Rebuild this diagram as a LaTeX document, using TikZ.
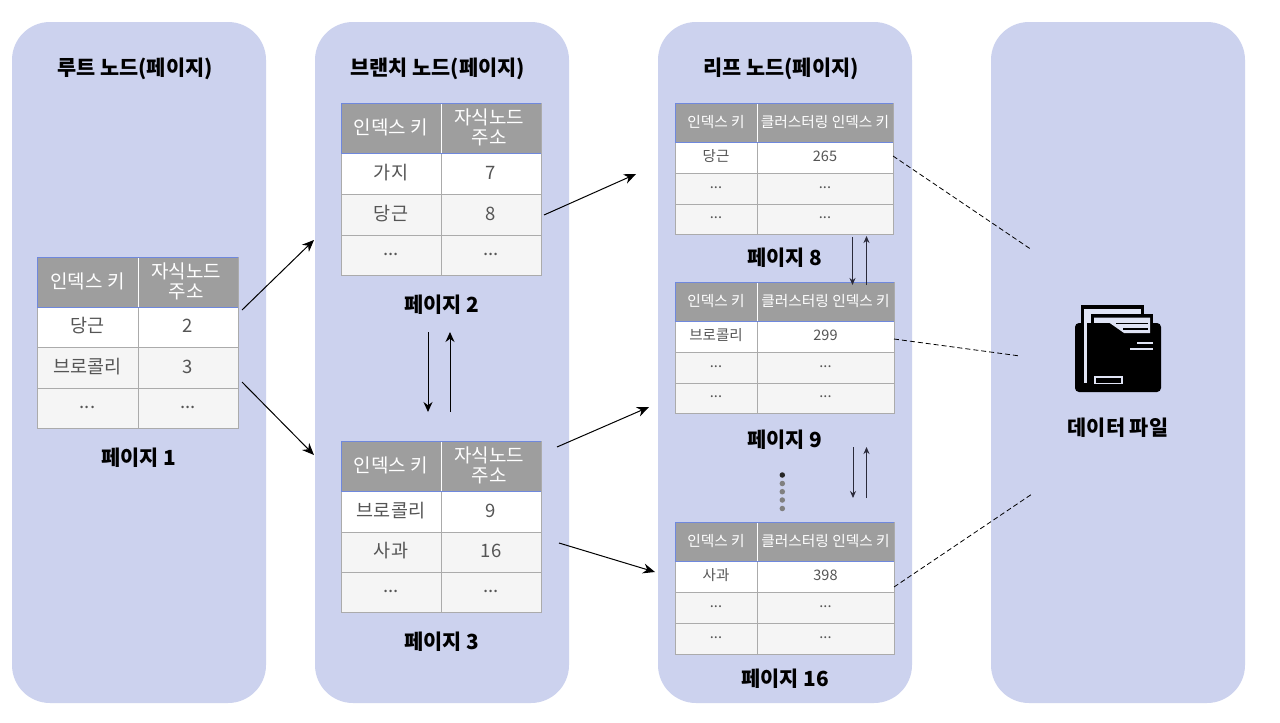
\documentclass[tikz,border=0pt]{standalone}
\usepackage{fontspec}
\setmainfont{Noto Sans CJK KR}
\usetikzlibrary{arrows.meta}
\definecolor{panelc}{HTML}{CCD2EE}
\definecolor{headc}{HTML}{9E9E9E}
\definecolor{rowc}{HTML}{F5F5F5}
\definecolor{gridc}{HTML}{ABABAB}
\definecolor{bluec}{HTML}{6F88DD}
\definecolor{textc}{HTML}{555555}
\definecolor{arrowc}{HTML}{2A2A3A}
\tikzset{
  x=1pt,y=-1pt,
  panel/.style={fill=panelc,rounded corners=38pt,draw=none},
  ptitle/.style={font=\fontsize{20.8}{24}\selectfont\bfseries,text=black,inner sep=0pt},
  flow/.style={-{Stealth[length=12pt,width=10pt]},line width=1pt,black},
  link/.style={-{Stealth[length=7pt,width=6pt]},line width=.9pt,arrowc},
  datalink/.style={dashed,dash pattern=on 5pt off 3pt,line width=.8pt,black},
  dotc/.style={circle,inner sep=0pt,minimum size=5.5pt,fill=#1},
}
\colorlet{lightc}{panelc!60!white}
\def\cx{0pt}
% cell: name, x1,y1,x2,y2, fill, text colour, font, text
\newcommand{\tcell}[9]{%
  \node[draw=gridc,line width=.9pt,fill=#6,inner sep=0pt,outer sep=0pt,
        minimum width={(#4-#2)*1pt},minimum height={(#5-#3)*1pt},anchor=north west] (#1) at (#2,#3) {};
  \node[text=#7,inner sep=0pt,align=center,font=#8] (#1-t) at ([yshift=1pt,xshift=\cx]#1.center) {#9};}
% table: name, x0,x1,x2, y0..y4, then hdr1, hdr2, r1a, r1b, r2a, r2b, r3a, r3b
\newcommand{\ttable}[9]{%
  \def\tn{#1}\def\xa{#2}\def\xb{#3}\def\xc{#4}\def\ya{#5}\def\yb{#6}\def\yc{#7}\def\yd{#8}\def\ye{#9}\ttableb}
\newcommand{\ttableb}[8]{%
  \tcell{\tn-h1}{\xa}{\ya}{\xb}{\yb}{headc}{white}{\hfont}{#1}
  \def\cx{\hx}
  \tcell{\tn-h2}{\xb}{\ya}{\xc}{\yb}{headc}{white}{\hfont}{#2}
  \def\cx{0pt}
  \draw[white,line width=1pt] (\xb,\ya) -- (\xb,\yb);
  \draw[bluec,line width=.9pt] (\xa,\ya) -- (\xc,\ya) (\xa,\yb) -- (\xc,\yb);
  \draw[bluec,line width=.7pt] (\xa,\ya) -- (\xa,\yb);
  \tcell{\tn-a1}{\xa}{\yb}{\xb}{\yc}{white}{textc}{\bfont}{#3}
  \tcell{\tn-a2}{\xb}{\yb}{\xc}{\yc}{white}{textc}{\bfont}{#4}
  \tcell{\tn-b1}{\xa}{\yc}{\xb}{\yd}{rowc}{textc}{\bfont}{#5}
  \tcell{\tn-b2}{\xb}{\yc}{\xc}{\yd}{rowc}{textc}{\bfont}{#6}
  \tcell{\tn-c1}{\xa}{\yd}{\xb}{\ye}{rowc}{textc}{\bfont}{#7}
  \tcell{\tn-c2}{\xb}{\yd}{\xc}{\ye}{rowc}{textc}{\bfont}{#8}
  \draw[bluec,line width=.9pt] (\xa,\yb) -- (\xc,\yb);
}
\newcommand{\bigfonts}{\def\hx{-2pt}\def\hfont{\fontsize{19}{20}\selectfont}\def\bfont{\fontsize{18.5}{20}\selectfont}}
\newcommand{\smallfonts}{\def\hx{0pt}\def\hfont{\fontsize{14.7}{16}\selectfont}\def\bfont{\fontsize{14.5}{16}\selectfont}}
\begin{document}
\begin{tikzpicture}
\useasboundingbox (0,0) rectangle (1280,723);
\fill[white] (0,0) rectangle (1280,723);
\path[panel] (12,22) rectangle (266,703);
\path[panel] (315,22) rectangle (569,703);
\path[panel] (658,22) rectangle (912,703);
\path[panel] (991,22) rectangle (1245,703);
\node[ptitle] (t1) at (135,68.5) {루트 노드(페이지)};
\node[ptitle] (t2) at (437.5,68.5) {브랜치 노드(페이지)};
\node[ptitle] (t3) at (781,68.5) {리프 노드(페이지)};

\bigfonts
\ttable{A}{37}{138}{238}{257}{307}{347}{388}{428}{인덱스 키}{자식노드\\주소}{당근}{2}{브로콜리}{3}{...}{...}
\ttable{B}{341}{441}{541}{103}{153}{194}{235}{275}{인덱스 키}{자식노드\\주소}{가지}{7}{당근}{8}{...}{...}
\ttable{C}{341}{441}{541}{441}{491}{532}{572}{612}{인덱스 키}{자식노드\\주소}{브로콜리}{9}{사과}{16}{...}{...}
\smallfonts
\ttable{D}{675}{757}{893}{103}{142}{173}{204}{234}{인덱스 키}{클러스터링 인덱스 키}{당근}{265}{...}{...}{...}{...}
\ttable{E}{675}{757}{894}{282}{321}{352}{383}{413}{인덱스 키}{클러스터링 인덱스 키}{브로콜리}{299}{...}{...}{...}{...}
\ttable{F}{675}{757}{894}{522}{561}{592}{623}{654}{인덱스 키}{클러스터링 인덱스 키}{사과}{398}{...}{...}{...}{...}

\node[ptitle] (p1) at (139,457.5) {페이지 1};
\node[ptitle] (p2) at (442,304.5) {페이지 2};
\node[ptitle] (p3) at (442,641.5) {페이지 3};
\node[ptitle] (p8) at (785,257.5) {페이지 8};
\node[ptitle] (p9) at (785,439.5) {페이지 9};
\node[ptitle] (p16) at (785,678.5) {페이지 16};
\node[ptitle] (df) at (1118,427.5) {데이터 파일};

% connector end points
\coordinate (r1) at (242,310); \coordinate (r1e) at (314,240);
\coordinate (r2) at (242,382); \coordinate (r2e) at (314,455);
\coordinate (b1) at (544,215); \coordinate (b1e) at (636,174);
\coordinate (b2) at (557,447); \coordinate (b2e) at (649,407);
\coordinate (b3) at (559,543); \coordinate (b3e) at (655,572);
\draw[flow] (r1) -- (r1e);
\draw[flow] (r2) -- (r2e);
\draw[flow] (b1) -- (b1e);
\draw[flow] (b2) -- (b2e);
\draw[flow] (b3) -- (b3e);

\coordinate (s1) at (428,332); \coordinate (s1e) at (428,412);
\coordinate (s2) at (450,412); \coordinate (s2e) at (450,332);
\draw[flow,-{Stealth[length=10pt,width=9pt]}] (s1) -- (s1e);
\draw[flow,-{Stealth[length=10pt,width=9pt]}] (s2) -- (s2e);
\coordinate (l1) at (852.5,237); \coordinate (l1e) at (852.5,285);
\coordinate (l2) at (866.5,285); \coordinate (l2e) at (866.5,236);
\coordinate (l3) at (853,447); \coordinate (l3e) at (853,498);
\coordinate (l4) at (866.5,498); \coordinate (l4e) at (866.5,447);
\draw[link] (l1) -- (l1e);
\draw[link] (l2) -- (l2e);
\draw[link] (l3) -- (l3e);
\draw[link] (l4) -- (l4e);

\coordinate (d1) at (893,156); \coordinate (d1e) at (1032,250);
\coordinate (d2) at (894,339); \coordinate (d2e) at (1020,356);
\coordinate (d3) at (894,587); \coordinate (d3e) at (1032,494);
\draw[datalink] (d1) -- (d1e);
\draw[datalink] (d2) -- (d2e);
\draw[datalink] (d3) -- (d3e);

\node[dotc=black!85] (dot1) at (782.3,475) {};
\node[dotc=gray] (dot2) at (782.3,483.5) {};
\node[dotc=gray] (dot3) at (782.3,491.7) {};
\node[dotc=gray] (dot4) at (782.3,500) {};
\node[dotc=gray] (dot5) at (782.3,508.5) {};

% folder icon
\fill[black] (1081,305) rectangle (1144,335);
\fill[lightc] (1084,308.5) rectangle (1141,340);
\fill[black] (1091,314) rectangle (1153,335);
\fill[lightc] (1094,317.5) rectangle (1150,340);
\fill[black,rounded corners=4pt] (1075,323) rectangle (1161,392);
\fill[lightc] (1084,323) rectangle (1086.5,383);
\fill[black] (1086.5,323) rectangle (1094,330);
\fill[lightc] (1094,317.5) -- (1150,317.5) -- (1150,333) -- (1124,333) -- (1109,322.5) -- (1094,322.5) -- cycle;
\draw[black,line width=1.6pt] (1116,323.5) -- (1148,323.5) (1123,329) -- (1148,329);
\draw[lightc,line width=2pt] (1137,343) -- (1153,343) (1130,349) -- (1153,349);
\draw[lightc,line width=1.8pt] (1095,377) rectangle (1122,383.5);
\end{tikzpicture}
\end{document}
